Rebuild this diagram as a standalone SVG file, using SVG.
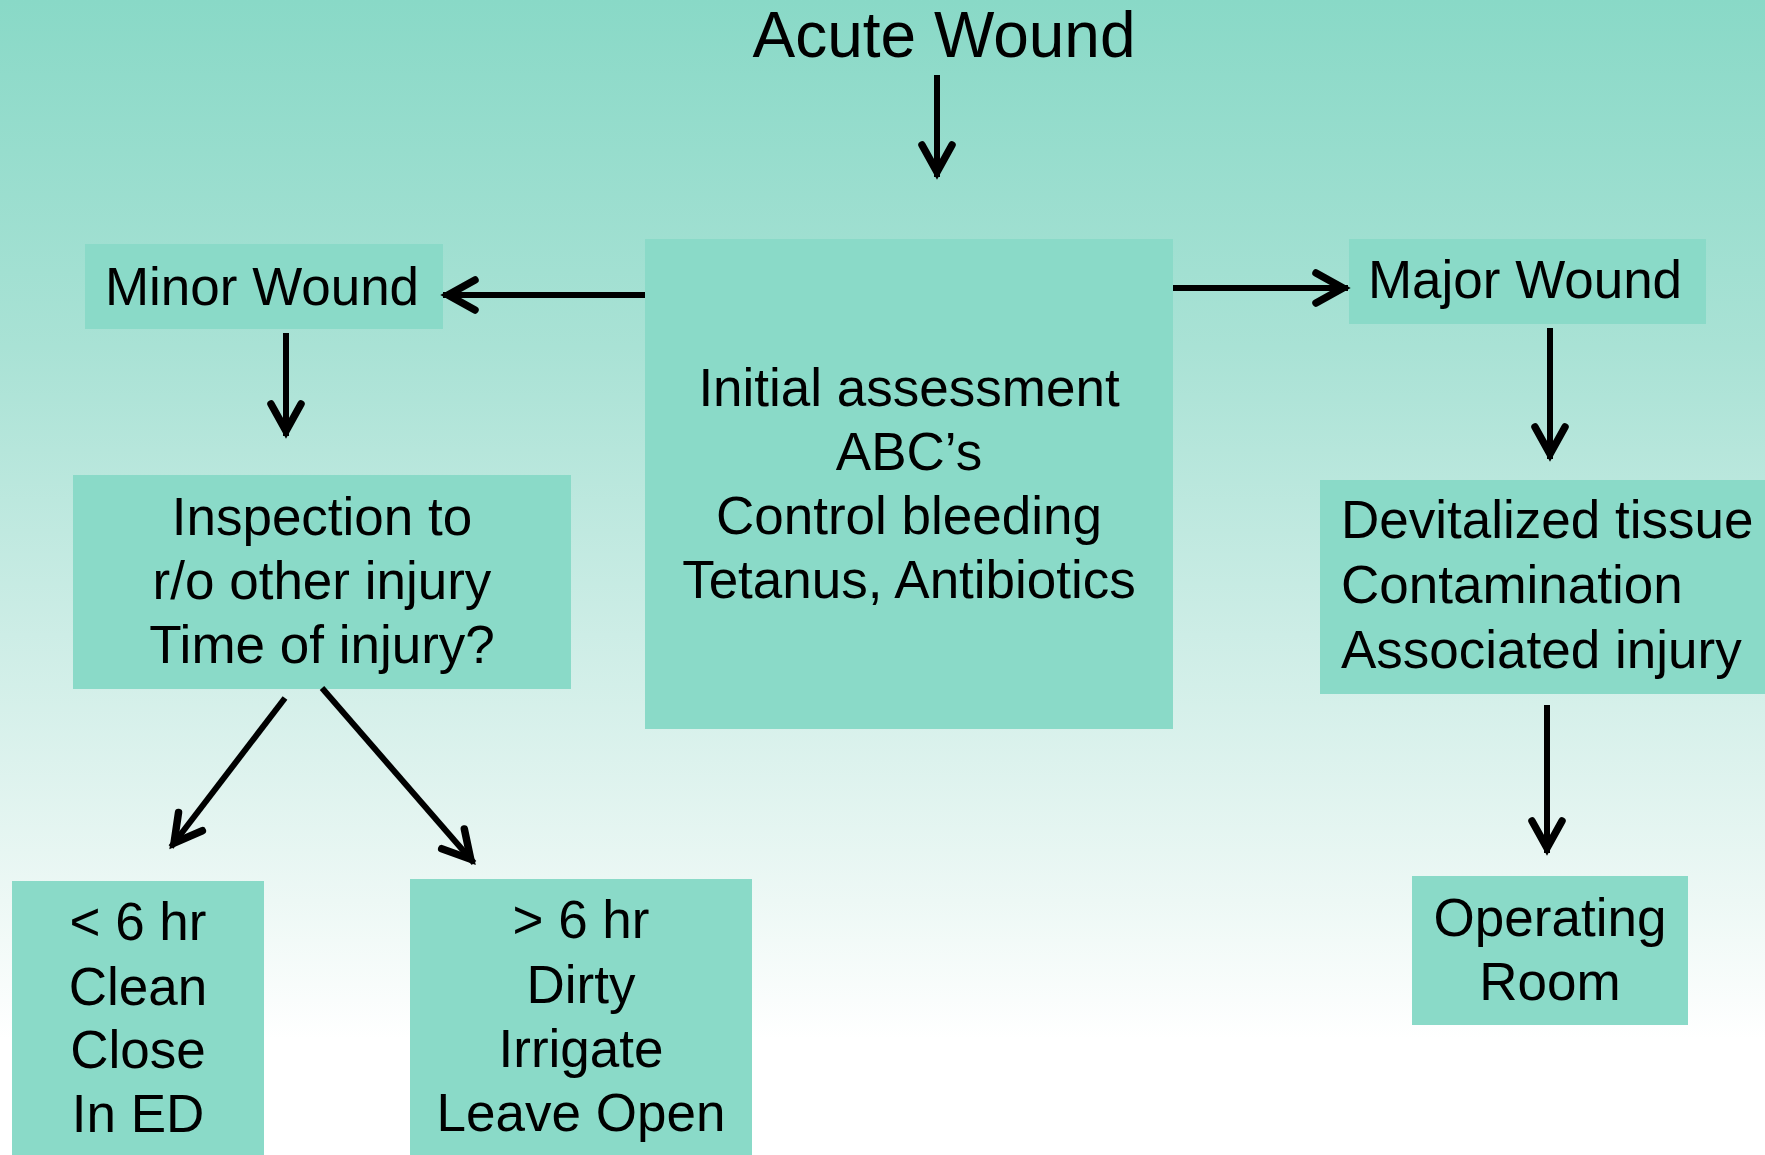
<svg xmlns="http://www.w3.org/2000/svg" width="1765" height="1155" viewBox="0 0 1765 1155">
<defs>
<linearGradient id="bg" x1="0" y1="0" x2="0" y2="1">
<stop offset="0" stop-color="#89d9c7"/>
<stop offset="0.3" stop-color="#a9e2d5"/>
<stop offset="0.55" stop-color="#cdede6"/>
<stop offset="0.78" stop-color="#edf8f5"/>
<stop offset="0.9" stop-color="#ffffff"/>
<stop offset="1" stop-color="#ffffff"/>
</linearGradient>
<marker id="ah" markerUnits="userSpaceOnUse" orient="auto" refX="0" refY="0" markerWidth="80" markerHeight="80" viewBox="-40 -40 80 80" overflow="visible">
<path d="M -32 -15 L -5 0 L -32 15" fill="none" stroke="#000" stroke-width="7.5" stroke-linecap="round" stroke-linejoin="miter"/>
</marker>
<style>
.box{fill:#8adac8;}
.t{font-family:"Liberation Sans",Arial,sans-serif;font-size:53px;fill:#000;text-anchor:middle;}
.tl{text-anchor:start;}
.c{stroke:#000;stroke-width:6;fill:none;marker-end:url(#ah);}
</style>
</defs>
<rect x="0" y="0" width="1765" height="1155" fill="url(#bg)"/>

<g id="acute-wound">
<text class="t" x="944" y="57" style="font-size:64px">Acute Wound</text>
</g>

<g id="initial-assessment">
<rect class="box" x="645" y="239" width="528" height="490"/>
<text class="t" x="909" y="406">Initial assessment</text>
<text class="t" x="909" y="470">ABC’s</text>
<text class="t" x="909" y="534">Control bleeding</text>
<text class="t" x="909" y="598">Tetanus, Antibiotics</text>
</g>

<g id="minor-wound">
<rect class="box" x="85" y="244" width="358" height="85"/>
<text class="t" x="262" y="305">Minor Wound</text>
</g>

<g id="major-wound">
<rect class="box" x="1349" y="239" width="357" height="85"/>
<text class="t" x="1525" y="298">Major Wound</text>
</g>

<g id="inspection">
<rect class="box" x="73" y="475" width="498" height="214"/>
<text class="t" x="322" y="535">Inspection to</text>
<text class="t" x="322" y="599">r/o other injury</text>
<text class="t" x="322" y="663">Time of injury?</text>
</g>

<g id="devitalized">
<rect class="box" x="1320" y="480" width="445" height="214"/>
<text class="t tl" x="1341" y="538">Devitalized tissue</text>
<text class="t tl" x="1341" y="603">Contamination</text>
<text class="t tl" x="1341" y="668">Associated injury</text>
</g>

<g id="less-6hr">
<rect class="box" x="12" y="881" width="252" height="274"/>
<text class="t" x="138" y="940">&lt; 6 hr</text>
<text class="t" x="138" y="1005">Clean</text>
<text class="t" x="138" y="1068">Close</text>
<text class="t" x="138" y="1132">In ED</text>
</g>

<g id="more-6hr">
<rect class="box" x="410" y="879" width="342" height="276"/>
<text class="t" x="581" y="938">&gt; 6 hr</text>
<text class="t" x="581" y="1003">Dirty</text>
<text class="t" x="581" y="1067">Irrigate</text>
<text class="t" x="581" y="1131">Leave Open</text>
</g>

<g id="operating-room">
<rect class="box" x="1412" y="876" width="276" height="149"/>
<text class="t" x="1550" y="936">Operating</text>
<text class="t" x="1550" y="1000">Room</text>
</g>

<g id="connectors">
<path class="c" d="M 937 75 L 937 177"/>
<path class="c" d="M 645 295 L 443 295"/>
<path class="c" d="M 1173 288 L 1348 288"/>
<path class="c" d="M 286 333 L 286 436"/>
<path class="c" d="M 1550 328 L 1550 459"/>
<path class="c" d="M 285 698 L 171 847"/>
<path class="c" d="M 322 688 L 474 863"/>
<path class="c" d="M 1547 705 L 1547 853"/>
</g>
</svg>
